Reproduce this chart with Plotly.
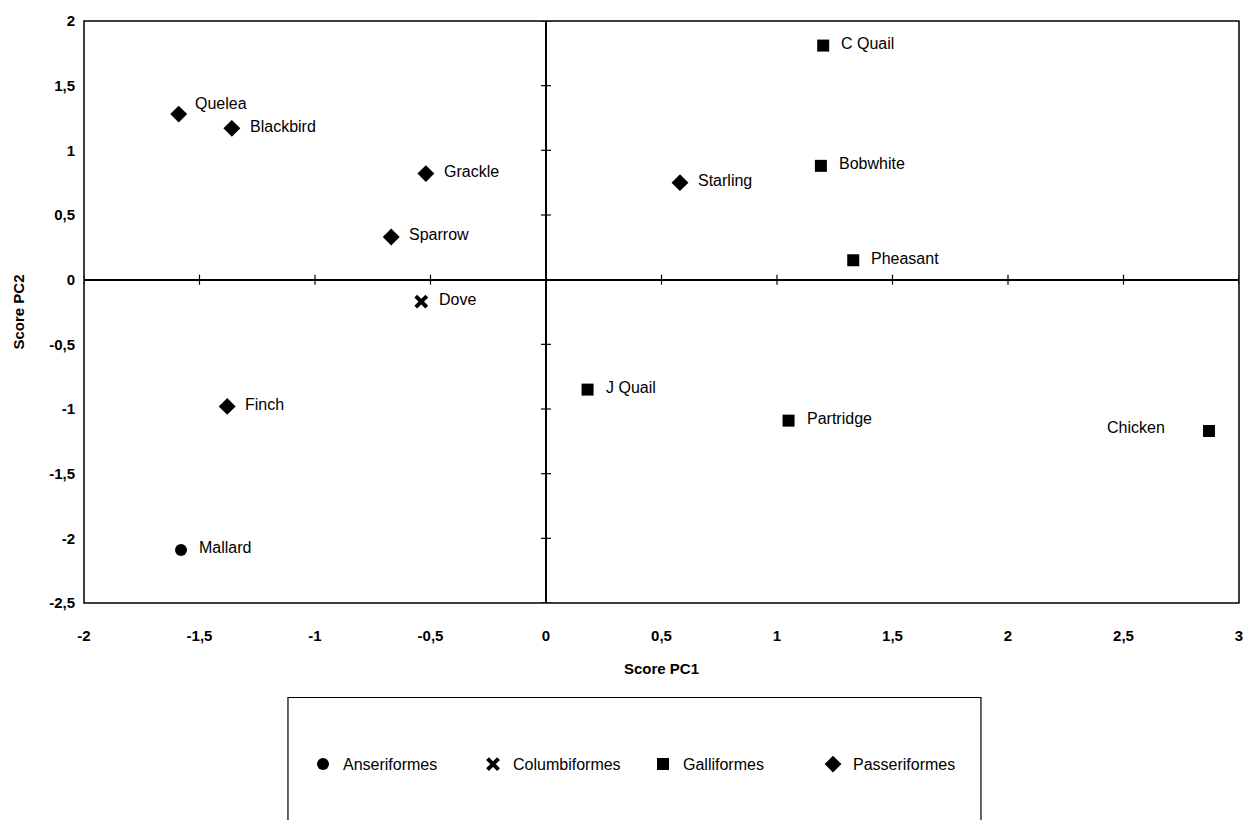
import plotly.graph_objects as go

# PCA scores per species
species = ["Mallard", "Dove", "C Quail", "Bobwhite", "Pheasant", "J Quail", "Partridge", "Chicken",
           "Quelea", "Blackbird", "Grackle", "Sparrow", "Finch", "Starling"]
orders = ["Anseriformes", "Columbiformes", "Galliformes", "Galliformes", "Galliformes", "Galliformes",
          "Galliformes", "Galliformes", "Passeriformes", "Passeriformes", "Passeriformes", "Passeriformes",
          "Passeriformes", "Passeriformes"]
pc1 = [-1.58, -0.54, 1.20, 1.19, 1.33, 0.18, 1.05, 2.87, -1.59, -1.36, -0.52, -0.67, -1.38, 0.58]
pc2 = [-2.09, -0.17, 1.81, 0.88, 0.15, -0.85, -1.09, -1.17, 1.28, 1.17, 0.82, 0.33, -0.98, 0.75]

order_names = ["Anseriformes", "Columbiformes", "Galliformes", "Passeriformes"]
x_ticks = [-2, -1.5, -1, -0.5, 0, 0.5, 1, 1.5, 2, 2.5, 3]
y_ticks = [-2.5, -2, -1.5, -1, -0.5, 0, 0.5, 1, 1.5, 2]


def fmt(v):
    # decimal comma and a plain hyphen for negatives
    return f"{v:g}".replace(".", ",")


FONT = "Liberation Sans, Arial, sans-serif"
symbols = {
    "Anseriformes": dict(symbol="circle", size=12, color="black"),
    "Columbiformes": dict(symbol="x-thin-open", size=11, color="black", line=dict(width=4, color="black")),
    "Galliformes": dict(symbol="square", size=12, color="black"),
    "Passeriformes": dict(symbol="diamond", size=13, color="black"),
}

fig = go.Figure()
for name in order_names:
    idx = [i for i, o in enumerate(orders) if o == name]
    fig.add_trace(go.Scatter(
        x=[pc1[i] for i in idx], y=[pc2[i] for i in idx],
        mode="markers", name=name, marker=symbols[name], hoverinfo="skip",
    ))

# point labels, mostly to the right of each marker
label_shift = {"Quelea": (14, 11), "Chicken": (-42, 3)}
for name, x, y in zip(species, pc1, pc2):
    dx, dy = label_shift.get(name, (16, 2))
    fig.add_annotation(x=x, y=y, text=name, showarrow=False,
                       xanchor="right" if dx < 0 else "left", xshift=dx, yshift=dy,
                       font=dict(family=FONT, size=16, color="black"))

# plot border
fig.add_shape(type="rect", xref="paper", yref="paper", x0=0, y0=0, x1=1, y1=1,
              line=dict(color="black", width=1.5), layer="above")
# cross ticks along the zero axes
for t in x_ticks:
    fig.add_shape(type="line", xref="x", yref="y", ysizemode="pixel", yanchor=0,
                  x0=t, x1=t, y0=-5, y1=5, line=dict(color="black", width=1.2))
for t in y_ticks:
    fig.add_shape(type="line", xref="x", yref="y", xsizemode="pixel", xanchor=0,
                  y0=t, y1=t, x0=-5, x1=5, line=dict(color="black", width=1.2))

# legend frame
fig.add_shape(type="rect", xref="paper", yref="paper", x0=0.1766, x1=0.7766, y0=-0.375, y1=-0.1624,
              line=dict(color="black", width=1.2))

fig.update_layout(
    width=1256, height=820,
    margin=dict(l=84, r=17, t=18, b=217),
    paper_bgcolor="white", plot_bgcolor="white",
    font=dict(family=FONT, color="black"),
    showlegend=True,
    legend=dict(orientation="h", x=0.484, xanchor="center", y=-0.277, yanchor="middle",
                font=dict(family=FONT, size=16, color="black"), itemwidth=30,
                entrywidth=125, entrywidthmode="pixels",
                bgcolor="rgba(0,0,0,0)", traceorder="normal"),
    xaxis=dict(range=[-2, 3], tickvals=x_ticks, ticktext=[fmt(v) for v in x_ticks],
               showgrid=False, showline=False, ticks="",
               zeroline=True, zerolinecolor="black", zerolinewidth=1.5,
               tickfont=dict(family=FONT, size=15, weight="bold"), ticklabelstandoff=22,
               title=dict(text="Score PC1", font=dict(family=FONT, size=15, weight="bold"), standoff=20)),
    yaxis=dict(range=[-2.5, 2], tickvals=y_ticks, ticktext=[fmt(v) for v in y_ticks],
               showgrid=False, showline=False, ticks="",
               zeroline=True, zerolinecolor="black", zerolinewidth=1.5,
               tickfont=dict(family=FONT, size=15, weight="bold"), ticklabelstandoff=8,
               title=dict(text="Score PC2", font=dict(family=FONT, size=15, weight="bold"), standoff=20)),
)

fig.write_html("out.html")
